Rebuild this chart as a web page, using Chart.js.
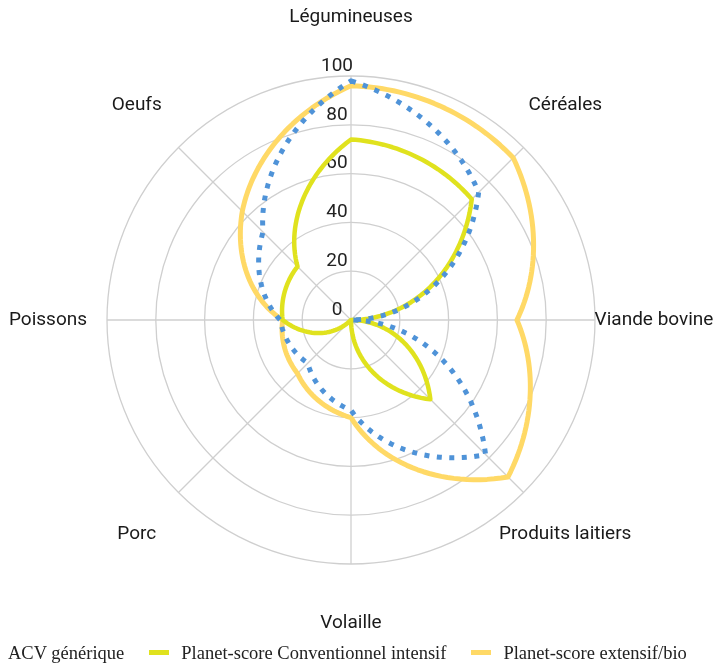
<!DOCTYPE html>
<html>
<head>
<meta charset="utf-8">
<script src="https://cdn.jsdelivr.net/npm/chart.js"></script>
<style>
  body { margin: 0; background: #fff; }
  #wrap { position: relative; width: 716px; height: 663px; overflow: hidden; }
  #legend { position: absolute; left: -24px; top: 644px; white-space: nowrap;
            font: 18.5px/18.5px "Liberation Serif", serif; color: #222; }
  #legend .item { margin-right: 25px; }
  #legend .swatch { display: inline-block; width: 20px; height: 5px; margin-right: 12px; vertical-align: 4px; }
</style>
</head>
<body>
<div id="wrap">
  <canvas id="chart" width="716" height="663"></canvas>
  <div id="legend"></div>
</div>
<script>
var categories = ['Légumineuses', 'Céréales', 'Viande bovine', 'Produits laitiers', 'Volaille', 'Porc', 'Poissons', 'Oeufs'];
var acvGenerique = [98, 74, 0, 78, 37, 25, 29, 51];
var conventionnelIntensif = [74, 70, 0, 46, 0, 0, 28, 31];
var extensifBio = [96, 94, 68, 91, 40, 31, 28, 63];
var seriesNames = ['ACV générique', 'Planet-score Conventionnel intensif', 'Planet-score extensif/bio'];
var seriesColors = ['#4f93d8', '#e0e21e', '#ffd966'];
var tickValues = [0, 20, 40, 60, 80, 100];

// radar whose segments follow the polar scale (r changes linearly with angle)
class PolarRadarController extends Chart.RadarController {
  draw() {
    var ds = this.getDataset();
    var scale = this.chart.scales.r;
    var ctx = this.chart.ctx;
    var vals = ds.data;
    var n = vals.length;
    var steps = 30;
    ctx.save();
    ctx.beginPath();
    for (var i = 0; i < n; i++) {
      var a = vals[i], b = vals[(i + 1) % n];
      for (var s = 0; s < steps; s++) {
        var t = s / steps;
        var p = scale.getPointPositionForValue(i + t, a + (b - a) * t);
        if (i === 0 && s === 0) ctx.moveTo(p.x, p.y); else ctx.lineTo(p.x, p.y);
      }
    }
    ctx.closePath();
    ctx.lineWidth = ds.borderWidth;
    ctx.strokeStyle = ds.borderColor;
    ctx.setLineDash(ds.borderDash || []);
    ctx.lineCap = 'butt';
    ctx.lineJoin = 'round';
    ctx.stroke();
    ctx.restore();
  }
}
PolarRadarController.id = 'polarRadar';
PolarRadarController.defaults = Chart.RadarController.defaults;
PolarRadarController.overrides = Chart.RadarController.overrides;
Chart.register(PolarRadarController);

var labelsPlugin = {
  id: 'labelsPlugin',
  beforeDatasetsDraw: function(chart) {
    var scale = chart.scales.r;
    var ctx = chart.ctx;
    ctx.save();
    ctx.font = '19px Roboto';
    ctx.fillStyle = '#222';
    ctx.textAlign = 'center';
    ctx.textBaseline = 'middle';
    tickValues.forEach(function(v) {
      var d = scale.getDistanceFromCenterForValue(v);
      ctx.fillText(String(v), scale.xCenter - 14, scale.yCenter - d - 10);
    });
    ctx.restore();
  },
  afterDraw: function(chart) {
    var scale = chart.scales.r;
    var ctx = chart.ctx;
    ctx.save();
    ctx.font = '19px Roboto';
    ctx.fillStyle = '#1a1a1a';
    ctx.textAlign = 'center';
    ctx.textBaseline = 'middle';
    categories.forEach(function(c, i) {
      var p = scale.getPointPosition(i, scale.drawingArea + 59);
      ctx.fillText(c, p.x, p.y);
    });
    ctx.restore();
  }
};

var ctx = document.getElementById('chart').getContext('2d');
var myChart = new Chart(ctx, {
  type: 'polarRadar',
  data: {
    labels: categories,
    datasets: [
      { label: seriesNames[0], data: acvGenerique, borderColor: seriesColors[0], borderWidth: 5, borderDash: [5, 7.5], fill: false, pointRadius: 0 },
      { label: seriesNames[1], data: conventionnelIntensif, borderColor: seriesColors[1], borderWidth: 4.5, fill: false, pointRadius: 0 },
      { label: seriesNames[2], data: extensifBio, borderColor: seriesColors[2], borderWidth: 5, fill: false, pointRadius: 0 }
    ]
  },
  options: {
    responsive: false,
    animation: false,
    layout: { padding: { left: 107, right: 121, top: 76, bottom: 99 } },
    plugins: { legend: { display: false }, tooltip: { enabled: false } },
    scales: {
      r: {
        min: 0,
        max: 100,
        ticks: { display: false, stepSize: 20 },
        pointLabels: { display: false },
        grid: { circular: true, color: '#cfcfcf', lineWidth: 1.3 },
        angleLines: { color: '#cfcfcf', lineWidth: 1.3 }
      }
    }
  },
  plugins: [labelsPlugin]
});

var legend = document.getElementById('legend');
seriesNames.forEach(function(name, i) {
  var item = document.createElement('span');
  item.className = 'item';
  var sw = document.createElement('span');
  sw.className = 'swatch';
  sw.style.background = seriesColors[i];
  item.appendChild(sw);
  item.appendChild(document.createTextNode(name));
  legend.appendChild(item);
});
</script>
</body>
</html>
